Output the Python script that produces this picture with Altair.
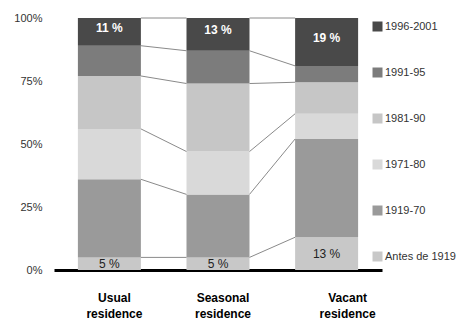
import altair as alt
import pandas as pd

categories = ["Usual residence", "Seasonal residence", "Vacant residence"]
periods = ["Antes de 1919", "1919-70", "1971-80", "1981-90", "1991-95", "1996-2001"]
usual = [5, 31, 20, 21, 12, 11]
seasonal = [5, 25, 17, 27, 13, 13]
vacant = [13, 39, 10, 12.5, 6.5, 19]
colors = ["#c8c8c8", "#9a9a9a", "#d9d9d9", "#c6c6c6", "#7c7c7c", "#494949"]

series = [usual, seasonal, vacant]
rows = []
for cat, vals in zip(categories, series):
    cum = 0
    for p, v in zip(periods, vals):
        rows.append({"cat": cat, "period": p, "value": v, "y0": cum, "y1": cum + v,
                     "mid": cum + v / 2, "label": f"{round(v)} %"})
        cum += v
df = pd.DataFrame(rows)

conn = []
for i in range(len(categories) - 1):
    a = df[df.cat == categories[i]].reset_index(drop=True)
    b = df[df.cat == categories[i + 1]].reset_index(drop=True)
    for k in range(len(periods)):
        if k == len(periods) - 1:
            continue
        conn.append({"cat": categories[i], "next": categories[i + 1],
                     "ya": a.loc[k, "y1"], "yb": b.loc[k, "y1"]})
    conn.append({"cat": categories[i], "next": categories[i + 1], "ya": 100, "yb": 100})
cdf = pd.DataFrame(conn)

W, H = 328, 252
xscale = alt.Scale(domain=categories, paddingInner=0.42, paddingOuter=0.22)
yscale = alt.Scale(domain=[0, 100])

offset_cond = {"condition": {"test": "datum.value === 'Vacant residence'", "value": 21}, "value": 5}

xaxis = alt.Axis(title=None, domainColor="black", domainWidth=3, ticks=False,
                 labelAngle=0, labelFont="Liberation Sans", labelFontWeight="bold",
                 labelFontSize=12, labelColor="black", labelPadding=27, labelLineHeight=16,
                 labelExpr="split(datum.label, ' ')", labelBaseline="middle",
                 labelOffset=offset_cond)
yaxis = alt.Axis(title=None, values=[0, 25, 50, 75, 100], labelExpr="datum.value + '%'",
                 domain=False, ticks=False, grid=False, labelFont="Liberation Sans",
                 labelFontSize=11, labelColor="#333333", labelPadding=12)

bars = alt.Chart(df).mark_bar().encode(
    x=alt.X("cat:N", scale=xscale, axis=xaxis, sort=categories),
    y=alt.Y("y0:Q", scale=yscale, axis=yaxis),
    y2="y1:Q",
    color=alt.Color("period:N", scale=alt.Scale(domain=periods[::-1], range=colors[::-1]),
                    legend=alt.Legend(title=None, orient="none", legendX=318, legendY=3,
                                      symbolType="square", symbolSize=100, symbolStrokeWidth=0,
                                      labelFont="Liberation Sans", labelFontSize=11,
                                      labelColor="#333333", rowPadding=34, labelOffset=2)),
)

rules = alt.Chart(cdf).mark_rule(color="#8a8a8a", strokeWidth=1).encode(
    x=alt.X("cat:N", scale=xscale, bandPosition=1),
    x2=alt.X2("next:N", bandPosition=0),
    y=alt.Y("ya:Q", scale=yscale),
    y2="yb:Q",
)

top_lbl = alt.Chart(df).transform_filter(alt.datum.period == "1996-2001").mark_text(
    color="white", fontWeight="bold", font="Liberation Sans", fontSize=12, dy=-4
).encode(x=alt.X("cat:N", scale=xscale), y=alt.Y("mid:Q", scale=yscale), text="label:N")

bot_lbl = alt.Chart(df).transform_filter(alt.datum.period == "Antes de 1919").mark_text(
    color="#222222", font="Liberation Sans", fontSize=12
).encode(x=alt.X("cat:N", scale=xscale), y=alt.Y("mid:Q", scale=yscale), text="label:N")

chart = alt.layer(bars, rules, top_lbl, bot_lbl).properties(
    width=W, height=H,
    autosize=alt.AutoSizeParams(type="none"),
    padding={"left": 54, "top": 18, "right": 78, "bottom": 50},
).configure_view(stroke=None)

chart.save("out.html", embed_options={"renderer": "svg", "actions": False})
